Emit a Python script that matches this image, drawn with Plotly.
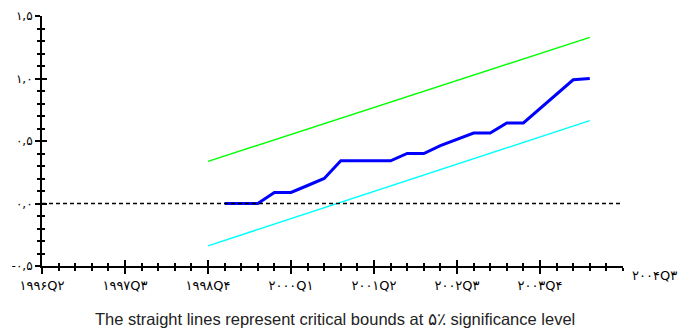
import plotly.graph_objects as go

# Recursive residual CUSUM of squares with 5% critical bounds
cusum_quarters = [f"{y}Q{q}" for y in range(1999, 2005) for q in range(1, 5)][:23]
cusum_sq = [0.0, 0.0, 0.0, 0.088, 0.088, 0.144, 0.20, 0.342, 0.342, 0.342,
            0.342, 0.40, 0.40, 0.463, 0.516, 0.564, 0.564, 0.645, 0.645,
            0.76, 0.875, 0.99, 1.0]

bound_quarters = ["1998Q4", "2004Q3"]
upper_bound = [0.337, 1.329]
lower_bound = [-0.339, 0.663]

x_tick_quarters = ["1996Q2", "1997Q3", "1998Q4", "2000Q1", "2001Q2", "2002Q3", "2003Q4"]
x_end_quarter = "2004Q3"
y_tick_values = [-0.5, 0.0, 0.5, 1.0, 1.5]
caption = "The straight lines represent critical bounds at ۵٪ significance level"

FIRST_YEAR, FIRST_Q = 1996, 2
LAST_INDEX = 35  # 2005Q1

PERSIAN = str.maketrans("0123456789.", "۰۱۲۳۴۵۶۷۸۹,")


def qindex(label):
    y, q = label.split("Q")
    return (int(y) - FIRST_YEAR) * 4 + int(q) - FIRST_Q


def fa(text):
    return text.translate(PERSIAN)


fig = go.Figure()
fig.add_trace(go.Scatter(x=[qindex(q) for q in bound_quarters], y=upper_bound,
                         mode="lines", line=dict(color="#00FF00", width=1.5),
                         showlegend=False))
fig.add_trace(go.Scatter(x=[qindex(q) for q in bound_quarters], y=lower_bound,
                         mode="lines", line=dict(color="#00FFFF", width=1.5),
                         showlegend=False))
fig.add_trace(go.Scatter(x=[qindex(q) for q in cusum_quarters], y=cusum_sq,
                         mode="lines", line=dict(color="#0000FF", width=3),
                         showlegend=False))
# empty trace so the tick-mirroring overlay axes are drawn
fig.add_trace(go.Scatter(x=[None], y=[None], xaxis="x2", yaxis="y2",
                         showlegend=False, hoverinfo="skip"))

# zero reference line
fig.add_shape(type="line", xref="paper", yref="y", x0=0, x1=1, y0=0, y1=0,
              line=dict(color="black", width=1.5, dash="4px,3px"))

tick_font = dict(family="DejaVu Sans", size=13, color="black")
ytick_font = dict(family="DejaVu Sans", size=12, color="black")

xaxis_common = dict(range=[0, LAST_INDEX], showgrid=False, zeroline=False,
                    automargin=False,
                    tickvals=[qindex(q) for q in x_tick_quarters],
                    tickcolor="black", tickwidth=1.5, ticklen=6)
yaxis_common = dict(range=[-0.5, 1.5], showgrid=False, zeroline=False,
                    automargin=False,
                    tickvals=y_tick_values,
                    tickcolor="black", tickwidth=1.5, ticklen=5)

fig.update_layout(
    width=679, height=329,
    margin=dict(l=42, r=56, t=16, b=63),
    paper_bgcolor="white", plot_bgcolor="white",
    xaxis=dict(**xaxis_common, ticks="outside",
               ticktext=[fa(q) for q in x_tick_quarters], tickfont=tick_font,
               showline=True, linecolor="black", linewidth=2,
               minor=dict(dtick=1, ticks="outside", ticklen=3,
                          tickcolor="black", tickwidth=1.5)),
    yaxis=dict(**yaxis_common, ticks="outside",
               ticktext=[fa(f"{v:.1f}") for v in y_tick_values], tickfont=ytick_font,
               showline=True, linecolor="black", linewidth=2,
               minor=dict(dtick=0.1, ticks="outside", ticklen=3,
                          tickcolor="black", tickwidth=1.5)),
    xaxis2=dict(**xaxis_common, overlaying="x", matches="x", anchor="y", side="bottom",
                ticks="inside", showticklabels=False, showline=False,
                minor=dict(dtick=1, ticks="inside", ticklen=3,
                           tickcolor="black", tickwidth=1.5)),
    yaxis2=dict(**yaxis_common, overlaying="y", matches="y", anchor="x", side="left",
                ticks="inside", showticklabels=False, showline=False,
                minor=dict(dtick=0.1, ticks="inside", ticklen=3,
                           tickcolor="black", tickwidth=1.5)),
    annotations=[
        dict(text=fa(x_end_quarter), xref="paper", yref="paper",
             x=1.055, y=-0.037, xanchor="center", yanchor="middle",
             showarrow=False, font=tick_font),
        dict(text=caption, xref="paper", yref="paper",
             x=0.505, y=-0.212, xanchor="center", yanchor="middle",
             showarrow=False,
             font=dict(family="Liberation Sans", size=16.5, color="#222222")),
    ],
)

fig.write_html("out.html")
